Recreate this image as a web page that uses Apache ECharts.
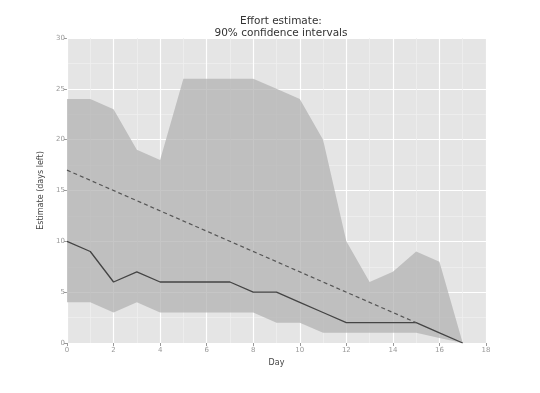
<!DOCTYPE html>
<html><head><meta charset="utf-8">
<script src="https://cdn.jsdelivr.net/npm/echarts@6/dist/echarts.min.js"></script>
<style>html,body{margin:0;padding:0;background:#fff}#c{width:540px;height:393px}</style>
</head><body><div id="c"></div>
<script>
var days = [0,1,2,3,4,5,6,7,8,9,10,11,12,13,14,15,16,17];
var upper = [24,24,23,19,18,26,26,26,26,25,24,20,10,6,7,9,8,0];
var lower = [4,4,3,4,3,3,3,3,3,2,2,1,1,1,1,1,0.5,0];
var median = [10,9,6,7,6,6,6,6,5,5,4,3,2,2,2,2,1,0];
var idealDays = [0,15];
var idealVals = [17,2];
var xTicks = [0,2,4,6,8,10,12,14,16,18];
var yTicks = [0,5,10,15,20,25,30];

var chart = echarts.init(document.getElementById('c'));
function pairs(xs, ys){ return xs.map(function(x,i){return [x, ys[i]];}); }
var diff = upper.map(function(u,i){return u - lower[i];});
var catDays = []; for (var d = 0; d <= 18; d++) catDays.push(String(d));
var labelStyle = {color:'#999', fontSize:7, fontFamily:'DejaVu Sans'};
chart.setOption({
  animation:false,
  backgroundColor:'#fff',
  title:{text:'Effort estimate:\n90% confidence intervals', left:276, top:10, textAlign:'center',
    textStyle:{fontSize:10.5, fontWeight:'normal', color:'#333', fontFamily:'DejaVu Sans', lineHeight:12}},
  grid:{left:67, right:54, top:38, bottom:50, show:true, backgroundColor:'#e5e5e5', borderWidth:0},
  xAxis:[{type:'value', min:xTicks[0], max:xTicks[xTicks.length-1], interval:2, name:'Day', nameLocation:'middle', nameGap:15,
    nameTextStyle:{color:'#444', fontSize:8, fontFamily:'DejaVu Sans'},
    axisLine:{show:false}, axisTick:{show:true, length:3, lineStyle:{color:'#999'}},
    axisLabel:Object.assign({margin:4}, labelStyle),
    splitLine:{show:true, lineStyle:{color:'#fff', width:1.2}},
    minorTick:{show:false, splitNumber:2},
    minorSplitLine:{show:true, lineStyle:{color:'#efefef', width:0.8}}, z:1},
   {type:'category', data:catDays, boundaryGap:false, show:false}],
  yAxis:{type:'value', min:yTicks[0], max:yTicks[yTicks.length-1], interval:5, name:'Estimate (days left)', nameLocation:'middle', nameGap:14,
    nameTextStyle:{color:'#444', fontSize:8, fontFamily:'DejaVu Sans'},
    axisLine:{show:false}, axisTick:{show:true, length:3, lineStyle:{color:'#999'}},
    axisLabel:Object.assign({margin:2}, labelStyle),
    splitLine:{show:true, lineStyle:{color:'#fff', width:1.2}},
    minorTick:{show:false, splitNumber:2},
    minorSplitLine:{show:true, lineStyle:{color:'#efefef', width:0.8}}},
  series:[
    {type:'line', xAxisIndex:1, data:lower, stack:'band', symbol:'none', lineStyle:{width:0}, silent:true},
    {type:'line', xAxisIndex:1, data:diff, stack:'band', symbol:'none', lineStyle:{width:0},
      areaStyle:{color:'#b0b0b0', opacity:0.72}, silent:true},
    {type:'line', data:pairs(days, median), symbol:'none', lineStyle:{color:'#444', width:1.3}},
    {type:'line', data:pairs(idealDays, idealVals), symbol:'none', lineStyle:{color:'#555', width:1.2, type:[4,3]}}
  ]
});
</script></body></html>
